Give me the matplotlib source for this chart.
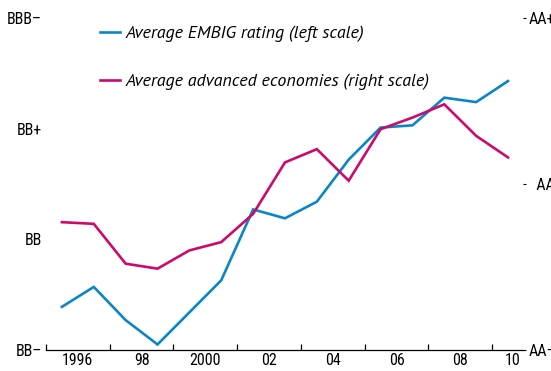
import numpy as np
import matplotlib
matplotlib.use("Agg")
from matplotlib import pyplot as plt
from matplotlib.ticker import FixedLocator, NullFormatter

# ratings on an ordinal scale: left BB-=0 .. BBB-=3, right AA-=0 .. AA+=2
years = np.arange(1996, 2011)
embig = [0.39, 0.57, 0.27, 0.05, 0.34, 0.63, 1.27, 1.19, 1.34, 1.72,
         2.01, 2.03, 2.28, 2.24, 2.43]
advanced = [0.77, 0.76, 0.52, 0.49, 0.60, 0.65, 0.82, 1.13, 1.21, 1.02,
            1.33, 1.40, 1.48, 1.29, 1.16]

left_ticks = [0, 1, 2, 3]
left_labels = ["BB\u2013", "BB", "BB+", "BBB\u2013"]
right_ticks = [0, 1, 2]
right_labels = ["AA\u2013", "  AA", "AA+"]
year_labels = ["1996", "98", "2000", "02", "04", "06", "08", "10"]
label_pos = [1996.5, 1998.5, 2000.5, 2002.5, 2004.5, 2006.5, 2008.5, 2010.15]

BLUE = "#0a86c7"
MAGENTA = "#cc0a6e"
tick_font = ["Roboto Condensed", "DejaVu Sans"]
legend_font = ["PT Sans", "DejaVu Sans"]

fig = plt.figure(figsize=(5.51, 3.71), dpi=100)
ax = fig.add_axes([46 / 551, 21 / 371, 477 / 551, 332 / 371])
ax2 = ax.twinx()

l1, = ax.plot(years, embig, color=BLUE, lw=1.9, solid_joinstyle="miter")
l2, = ax2.plot(years, advanced, color=MAGENTA, lw=1.9, solid_joinstyle="miter")

ax.set_xlim(1995.5, 2010.47)
ax.set_ylim(0, 3)
ax2.set_ylim(0, 2)

for a in (ax, ax2):
    for s in ("top", "left", "right"):
        a.spines[s].set_visible(False)
ax2.spines["bottom"].set_visible(False)
ax.spines["bottom"].set_linewidth(0.9)

# year ticks mark the boundaries, labels sit between them
ax.xaxis.set_major_locator(FixedLocator(np.arange(1995.5, 2010, 2)))
ax.xaxis.set_major_formatter(NullFormatter())
ax.xaxis.set_minor_locator(FixedLocator(label_pos))
ax.set_xticklabels(year_labels, minor=True, fontsize=11.5, family=tick_font)
ax.tick_params(axis="x", which="major", direction="in", length=4, width=0.9)
ax.tick_params(axis="x", which="minor", length=0, pad=2)

ax.set_yticks(left_ticks)
ax.set_yticklabels(left_labels, fontsize=11.5, family=tick_font)
ax.tick_params(axis="y", length=0, pad=3)

ax2.set_yticks(right_ticks)
ax2.set_yticklabels(right_labels, fontsize=11.5, family=tick_font)
ax2.tick_params(axis="y", direction="out", length=2, width=0.8, pad=2)

ax.legend([l1, l2], ["Average EMBIG rating (left scale)",
                     "Average advanced economies (right scale)"],
          loc="upper left", bbox_to_anchor=(0.113, 0.978), frameon=False,
          handlelength=1.1, handletextpad=0.3, labelspacing=1.75,
          borderaxespad=0, borderpad=0,
          prop={"family": legend_font, "style": "italic", "size": 13})

fig.savefig("out.png", dpi=100)
